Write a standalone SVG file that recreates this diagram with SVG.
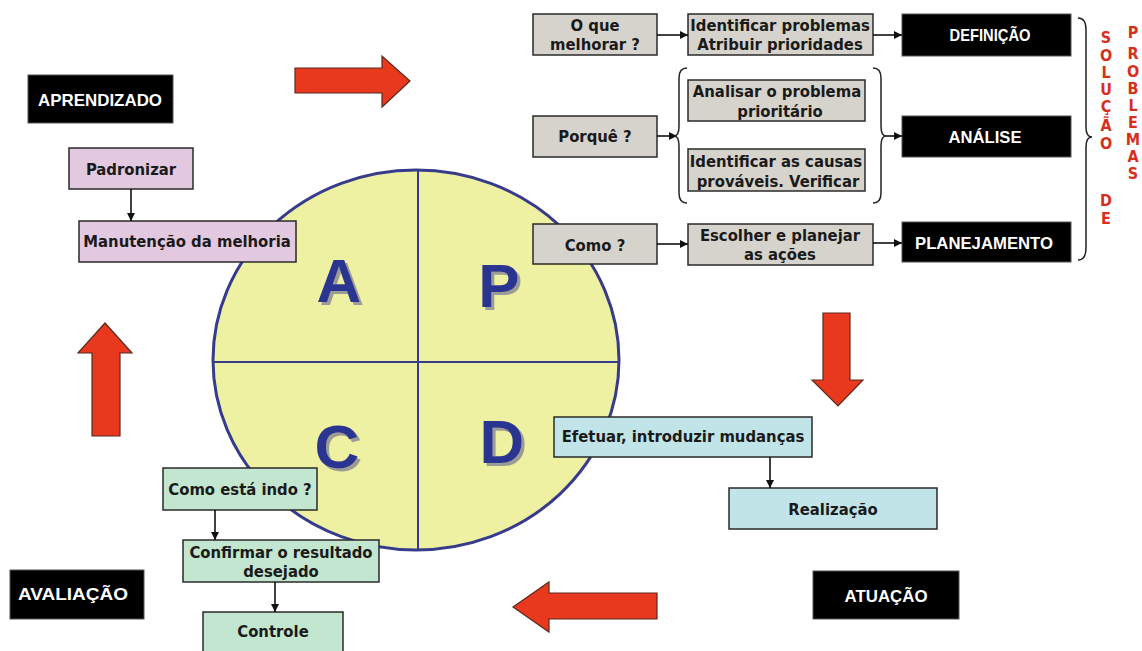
<svg xmlns="http://www.w3.org/2000/svg" width="1142" height="651" viewBox="0 0 1142 651">
  <defs>
    <marker id="head" viewBox="0 0 10 10" refX="10" refY="5" markerWidth="8" markerHeight="8" markerUnits="userSpaceOnUse" orient="auto">
      <path d="M0,0 L10,5 L0,10 z" fill="#111"/>
    </marker>
    <filter id="shadow" x="-20%" y="-20%" width="150%" height="150%">
      <feDropShadow dx="3" dy="3" stdDeviation="0.6" flood-color="#9c9c96" flood-opacity="1"/>
    </filter>
  </defs>
  <style>
    .box { stroke: #2a2a2a; stroke-width: 1.5; }
    .gray { fill: #d5d3cb; }
    .pink { fill: #e2c9e0; }
    .mint { fill: #c2e6cf; }
    .blue { fill: #c0e4e8; }
    .dark { fill: #000; stroke: #555; stroke-width: 1; }
    .t { font-family: "DejaVu Sans Condensed", "Liberation Sans", sans-serif; font-weight: bold; font-size: 16.5px; fill: #1a1a1a; text-anchor: middle; }
    .w { font-family: "Liberation Sans", Arial, sans-serif; font-weight: bold; font-size: 17px; fill: #fff; text-anchor: middle; }
    .big { font-family: "Liberation Sans", Arial, sans-serif; font-weight: bold; font-size: 62px; text-anchor: middle; fill: #2c3591; }
    .red { font-family: "DejaVu Sans Condensed", "Liberation Sans", sans-serif; font-weight: bold; font-size: 16px; fill: #d6301c; text-anchor: middle; }
    .conn { stroke: #111; stroke-width: 1.6; fill: none; }
    .brace { stroke: #222; stroke-width: 1.5; fill: none; }
    .bigarrow { fill: #e8391e; stroke: #5a2a1e; stroke-width: 1.2; }
  </style>

  <rect width="1142" height="651" fill="#fff"/>

  <!-- PDCA wheel -->
  <g id="wheel">
    <ellipse cx="416" cy="360" rx="203" ry="190" fill="#eef0a2" stroke="#363b8c" stroke-width="3"/>
    <line x1="418" y1="170" x2="418" y2="550" stroke="#363b8c" stroke-width="2"/>
    <line x1="213" y1="362" x2="619" y2="362" stroke="#363b8c" stroke-width="2"/>
    <g class="big" filter="url(#shadow)">
      <text x="339" y="302">A</text>
      <text x="499" y="307">P</text>
      <text x="337" y="468">C</text>
      <text x="502" y="463">D</text>
    </g>
  </g>

  <!-- cycle arrows -->
  <g id="cycle-arrows">
    <path class="bigarrow" d="M295,68 L382,68 L382,56 L410,81 L382,107 L382,93 L295,93 z"/>
    <path class="bigarrow" d="M823,313 L850,313 L850,380 L863,380 L838,406 L812,380 L823,380 z"/>
    <path class="bigarrow" d="M657,593 L549,593 L549,582 L513,607 L549,632 L549,619 L657,619 z"/>
    <path class="bigarrow" d="M92,436 L92,353 L78,353 L105,323 L132,353 L120,353 L120,436 z"/>
  </g>

  <!-- Plan: problem solving -->
  <g id="o-que-melhorar">
    <rect class="box gray" x="533" y="14" width="124" height="41"/>
    <text class="t" x="595" y="31">O que</text>
    <text class="t" x="595" y="50">melhorar ?</text>
  </g>
  <g id="identificar-problemas">
    <rect class="box gray" x="688" y="14" width="185" height="41"/>
    <text class="t" x="780" y="31">Identificar problemas</text>
    <text class="t" x="780" y="50">Atribuir prioridades</text>
  </g>
  <g id="definicao">
    <rect class="dark" x="902" y="14" width="169" height="42"/>
    <text class="w" x="990" y="41" textLength="81" lengthAdjust="spacingAndGlyphs">DEFINIÇÃO</text>
  </g>
  <g id="porque">
    <rect class="box gray" x="533" y="116" width="124" height="41"/>
    <text class="t" x="595" y="142">Porquê ?</text>
  </g>
  <g id="analisar-problema">
    <rect class="box gray" x="688" y="80" width="177" height="41"/>
    <text class="t" x="777" y="97">Analisar o problema</text>
    <text class="t" x="780" y="117">prioritário</text>
  </g>
  <g id="identificar-causas">
    <rect class="box gray" x="688" y="149" width="177" height="42"/>
    <text class="t" x="776" y="167">Identificar as causas</text>
    <text class="t" x="778" y="187">prováveis. Verificar</text>
  </g>
  <g id="analise">
    <rect class="dark" x="902" y="116" width="169" height="41"/>
    <text class="w" x="985" y="143" textLength="73" lengthAdjust="spacingAndGlyphs">ANÁLISE</text>
  </g>
  <g id="como">
    <rect class="box gray" x="533" y="224" width="124" height="40"/>
    <text class="t" x="595" y="251">Como ?</text>
  </g>
  <g id="escolher-planejar">
    <rect class="box gray" x="688" y="224" width="185" height="41"/>
    <text class="t" x="780" y="241">Escolher e planejar</text>
    <text class="t" x="780" y="260">as ações</text>
  </g>
  <g id="planejamento">
    <rect class="dark" x="902" y="222" width="169" height="40"/>
    <text class="w" x="984" y="249" textLength="138" lengthAdjust="spacingAndGlyphs">PLANEJAMENTO</text>
  </g>
  <g id="solucao-de-problemas">
    <path class="brace" d="M1078,18 Q1086,18 1086,30 L1086,127 Q1086,137 1092,137 Q1086,137 1086,147 L1086,248 Q1086,260 1078,260"/>
    <g class="red">
      <text x="1106" y="43">S</text>
      <text x="1106" y="61">O</text>
      <text x="1106" y="78">L</text>
      <text x="1106" y="95">U</text>
      <text x="1106" y="112">Ç</text>
      <text x="1106" y="131">Ã</text>
      <text x="1106" y="149">O</text>
      <text x="1106" y="206">D</text>
      <text x="1106" y="224">E</text>
      <text x="1133" y="38">P</text>
      <text x="1133" y="59">R</text>
      <text x="1133" y="77">O</text>
      <text x="1133" y="94">B</text>
      <text x="1133" y="111">L</text>
      <text x="1133" y="128">E</text>
      <text x="1133" y="145">M</text>
      <text x="1133" y="162">A</text>
      <text x="1133" y="179">S</text>
    </g>
  </g>

  <!-- Act -->
  <g id="aprendizado">
    <rect class="dark" x="28" y="75" width="145" height="48"/>
    <text class="w" x="100" y="106" textLength="124" lengthAdjust="spacingAndGlyphs">APRENDIZADO</text>
  </g>
  <g id="padronizar">
    <rect class="box pink" x="69" y="148" width="124" height="41"/>
    <text class="t" x="131" y="175">Padronizar</text>
  </g>
  <g id="manutencao">
    <rect class="box pink" x="79" y="221" width="217" height="41"/>
    <text class="t" x="187" y="247">Manutenção da melhoria</text>
  </g>

  <!-- Check -->
  <g id="como-esta-indo">
    <rect class="box mint" x="163" y="468" width="154" height="42"/>
    <text class="t" x="240" y="495">Como está indo ?</text>
  </g>
  <g id="confirmar-resultado">
    <rect class="box mint" x="183" y="540" width="196" height="42"/>
    <text class="t" x="281" y="558">Confirmar o resultado</text>
    <text class="t" x="281" y="577">desejado</text>
  </g>
  <g id="controle">
    <rect class="box mint" x="203" y="612" width="140" height="40"/>
    <text class="t" x="273" y="637">Controle</text>
  </g>
  <g id="avaliacao">
    <rect class="dark" x="10" y="570" width="134" height="49"/>
    <text class="w" x="73" y="600" textLength="110" lengthAdjust="spacingAndGlyphs">AVALIAÇÃO</text>
  </g>

  <!-- Do -->
  <g id="efetuar">
    <rect class="box blue" x="554" y="417" width="258" height="40"/>
    <text class="t" x="683" y="442">Efetuar, introduzir mudanças</text>
  </g>
  <g id="realizacao">
    <rect class="box blue" x="729" y="488" width="208" height="41"/>
    <text class="t" x="833" y="515">Realização</text>
  </g>
  <g id="atuacao">
    <rect class="dark" x="813" y="571" width="146" height="48"/>
    <text class="w" x="886" y="602" textLength="83" lengthAdjust="spacingAndGlyphs">ATUAÇÃO</text>
  </g>

  <!-- connectors -->
  <g id="connectors">
    <line class="conn" x1="657" y1="35" x2="688" y2="35" marker-end="url(#head)"/>
    <line class="conn" x1="873" y1="35" x2="902" y2="35" marker-end="url(#head)"/>
    <line class="conn" x1="657" y1="136" x2="677" y2="136" marker-end="url(#head)"/>
    <path class="brace" d="M687,68 Q679,68 679,78 L679,126 Q679,136 674,136 Q679,136 679,146 L679,193 Q679,203 687,203"/>
    <path class="brace" d="M873,68 Q881,68 881,78 L881,126 Q881,136 886,136 Q881,136 881,146 L881,193 Q881,203 873,203"/>
    <line class="conn" x1="886" y1="136" x2="902" y2="136" marker-end="url(#head)"/>
    <line class="conn" x1="657" y1="244" x2="688" y2="244" marker-end="url(#head)"/>
    <line class="conn" x1="873" y1="243" x2="902" y2="243" marker-end="url(#head)"/>
    <line class="conn" x1="131" y1="189" x2="131" y2="221" marker-end="url(#head)"/>
    <line class="conn" x1="215" y1="510" x2="215" y2="540" marker-end="url(#head)"/>
    <line class="conn" x1="275" y1="582" x2="275" y2="612" marker-end="url(#head)"/>
    <line class="conn" x1="770" y1="457" x2="770" y2="488" marker-end="url(#head)"/>
  </g>
</svg>
